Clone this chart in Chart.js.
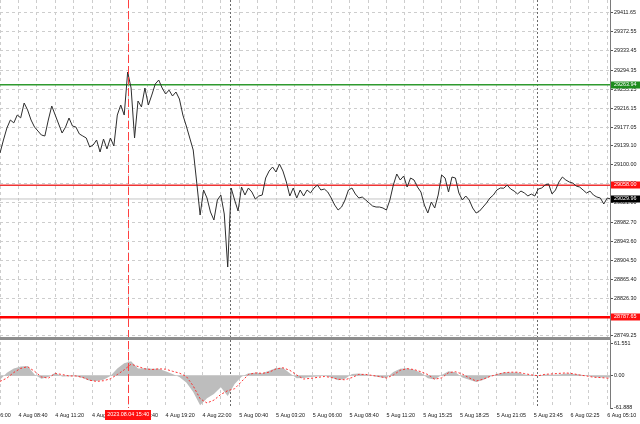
<!DOCTYPE html>
<html>
<head>
<meta charset="utf-8">
<style>
html, body { margin: 0; padding: 0; background: #fff; }
#wrap { width: 640px; height: 424px; }
</style>
<script src="https://cdn.jsdelivr.net/npm/chart.js@4.4.0/dist/chart.umd.min.js"></script>
</head>
<body>
<div id="wrap"><canvas id="chart" width="640" height="424"></canvas></div>
<script>
// BTCUSD M5, 4-6 Aug 2023, price + MACD

// price sampled every 3 bars, starting at the first visible bar
const priceValues = [
    29124.2, 29150.9, 29175.5, 29191.9, 29186.0, 29202.1, 29196.3, 29226.7, 29212.5, 29191.9,
    29177.5, 29169.3, 29161.1, 29159.1, 29191.9, 29220.6, 29202.1, 29183.7, 29165.2, 29177.5,
    29196.0, 29179.6, 29177.5, 29163.3, 29159.1, 29155.0, 29136.5, 29140.6, 29150.9, 29126.3,
    29152.9, 29132.6, 29155.0, 29138.6, 29202.1, 29222.6, 29202.1, 29290.3, 29257.5, 29155.0,
    29230.8, 29218.7, 29257.5, 29222.6, 29243.1, 29265.7, 29273.9, 29257.5, 29245.2, 29253.2,
    29241.1, 29249.3, 29234.9, 29202.1, 29179.6, 29155.0, 29130.4, 29064.8, 28997.1, 29048.4,
    29032.0, 29003.3, 28986.9, 29027.9, 29038.1, 28999.2, 28890.5, 29052.5, 29027.9, 29005.3,
    29054.5, 29038.1, 29052.5, 29044.3, 29029.9, 29036.1, 29038.1, 29073.0, 29087.3, 29095.5,
    29085.3, 29101.7, 29087.3, 29064.8, 29036.1, 29052.5, 29032.0, 29048.4, 29036.1, 29048.4,
    29042.4, 29052.5, 29058.6, 29048.4, 29050.4, 29044.3, 29032.0, 29017.6, 29007.4, 29013.5,
    29027.9, 29048.4, 29052.5, 29040.2, 29032.0, 29034.0, 29027.9, 29021.7, 29015.6, 29013.5,
    29013.5, 29011.5, 29007.4, 29027.9, 29058.6, 29081.2, 29068.9, 29077.1, 29054.5, 29073.0,
    29068.9, 29054.5, 29044.3, 29017.6, 29001.2, 29023.8, 29011.5, 29038.1, 29079.1, 29073.0,
    29044.3, 29075.0, 29073.0, 29042.2, 29027.9, 29036.1, 29027.9, 29011.5, 29001.2, 29005.3,
    29013.5, 29021.7, 29032.0, 29038.1, 29048.4, 29052.5, 29052.0, 29058.6, 29050.5, 29046.3,
    29040.3, 29046.3, 29042.2, 29036.2, 29040.1, 29036.1, 29050.4, 29052.5, 29058.6, 29060.7,
    29040.3, 29048.4, 29064.8, 29075.0, 29068.9, 29064.8, 29062.7, 29056.6, 29054.5, 29048.4,
    29042.2, 29046.2, 29038.1, 29034.0, 29032.0, 29019.7, 29032.0, 29029.96
];

// MACD main (histogram) and signal, sampled every 6 bars
const macdMain = [
    -7.8, 5.4, 14.0, 17.6, 18.5, 2.2, -6.0, -2.4, 5.4, -1.5,
    -1.1, -1.3, -4.2, -9.6, -10.0, -7.8, -0.5, 14.0, 24.0, 27.6,
    14.0, 14.3, 13.4, 13.4, 8.5, 3.1, -2.4, -13.2, -31.4, -56.8,
    -43.2, -35.0, -22.3, -38.7, -16.0, -2.0, 4.9, 5.8, 4.5, 9.4,
    14.9, 15.2, 4.9, -4.7, -4.2, -2.4, -1.5, -0.2, -3.3, -8.7,
    -6.0, 3.1, 4.4, 2.2, -0.5, -2.9, -4.5, 7.3, 13.4, 14.3,
    11.3, 5.8, -5.1, -7.4, 1.3, 8.5, 6.7, -3.3, -7.8, -12.3,
    -8.2, -1.8, 3.1, 6.2, 6.2, 6.2, 2.5, 1.3, -0.2, 2.2,
    2.0, 2.2, 4.2, 3.4, 2.2, 0.0, -2.4, -3.3, -3.6, -3.8
];
const macdSignal = [
    -10.9, -4.7, 6.2, 14.0, 17.2, 8.5, -2.4, -4.7, 4.4, 2.2,
    -0.5, -0.5, -3.3, -8.7, -10.9, -9.6, -6.0, 2.2, 11.3, 22.1,
    17.6, 13.1, 11.8, 13.1, 12.5, 8.5, 4.9, -1.5, -19.6, -44.1,
    -52.3, -46.8, -35.9, -28.7, -25.0, -11.3, 2.2, 5.3, 4.5, 6.7,
    12.9, 15.2, 10.3, 1.3, -6.4, -5.1, -3.3, -1.5, -3.3, -6.9,
    -7.8, -3.6, 2.5, 2.5, 0.4, -1.5, -4.5, 1.3, 10.3, 13.4,
    11.8, 7.6, 2.2, -6.7, -4.2, 5.8, 7.6, 3.1, -4.2, -10.3,
    -6.7, -1.5, 2.2, 5.6, 6.7, 6.7, 4.0, 1.6, -0.2, 2.7,
    3.4, 4.4, 5.3, 4.0, 1.3, -0.5, -2.9, -3.6, -4.7, -5.1
];

// time axis labels, one every 32 bars (first one is cut at the left edge)
const timeLabels = [
    '4 Aug 06:00', '4 Aug 08:40', '4 Aug 11:20', '4 Aug 14:00', '4 Aug 16:40', '4 Aug 19:20',
    '4 Aug 22:00', '5 Aug 00:40', '5 Aug 03:20', '5 Aug 06:00', '5 Aug 08:40', '5 Aug 11:20',
    '5 Aug 15:25', '5 Aug 18:25', '5 Aug 21:05', '5 Aug 23:45', '6 Aug 02:25', '6 Aug 05:10'
];
const priceTicks = [
    29411.65, 29372.55, 29333.45, 29294.35, 29255.25, 29216.15, 29177.05, 29139.10, 29100.00,
    29060.90, 29021.80, 28982.70, 28943.60, 28904.50, 28865.40, 28826.30, 28787.20, 28749.25
];
const macdTicks = [61.551, 0, -61.888];
const macdTickLabels = ['61.551', '0.00', '-61.888'];

// horizontal levels
const resistanceLevel = 29263.94;
const pivotLevel = 29058.00;
const supportLevel = 28787.65;
const lastPrice = 29029.96;

// vertical markers (bar numbers)
const crosshairBar = 111.5;
const crosshairLabel = '2023.08.04 15:40';
const daySeparatorBars = [200, 467];

// ─── axis setup ───
const PRICE_STEP = 3;
const MACD_STEP = 6;
const BARS_VISIBLE = 530.4;
const FIRST_LABEL_BAR = -16;
const LABEL_EVERY = 32;
const GRID_EVERY = 16;
const PRICE_MIN = 28745.0, PRICE_MAX = 29437.9;
const MACD_MIN = -61.888, MACD_MAX = 72.2;

const gridBars = [];
for (let b = FIRST_LABEL_BAR; b <= BARS_VISIBLE; b += GRID_EVERY) gridBars.push(b);

const FONT = { family: 'Liberation Sans', size: 5.4 };
const GRID = '#cdcdcd';

Chart.defaults.font.family = FONT.family;
Chart.defaults.color = '#151515';

const levelLine = (v, color, width) => ({
    data: [{ x: 0, y: v }, { x: BARS_VISIBLE, y: v }],
    yAxisID: 'y',
    borderColor: color,
    borderWidth: width,
    pointRadius: 0,
});

function tag(ctx, area, py, bg, text) {
    ctx.fillStyle = bg;
    ctx.fillRect(area.right + 1, Math.round(py) - 3.5, 30, 7);
    ctx.fillStyle = '#fff';
    ctx.font = `${FONT.size}px ${FONT.family}`;
    ctx.textAlign = 'left';
    ctx.textBaseline = 'middle';
    ctx.fillText(text, area.right + 4, Math.round(py));
}

// vertical panel sizes are fixed, no label overhang
const fixY = s => { s.width = 30; s.paddingTop = 0; s.paddingBottom = 0; };

const overlay = {
    id: 'overlay',
    beforeDatasetsDraw(chart) {
        const { ctx, chartArea: a, scales: { x } } = chart;
        ctx.save();
        ctx.lineWidth = 1;
        ctx.strokeStyle = '#6a6a6a';
        ctx.setLineDash([2, 2]);
        daySeparatorBars.forEach(b => {
            const px = Math.round(x.getPixelForValue(b)) + 0.5;
            ctx.beginPath();
            ctx.moveTo(px, a.top);
            ctx.lineTo(px, a.bottom);
            ctx.stroke();
        });
        ctx.restore();
    },
    afterDatasetsDraw(chart) {
        const { ctx, chartArea: a, scales: { x, y } } = chart;
        ctx.save();
        // crosshair
        const cx = Math.round(x.getPixelForValue(crosshairBar)) + 0.5;
        ctx.strokeStyle = '#ff4040';
        ctx.lineWidth = 1;
        ctx.setLineDash([8, 3]);
        ctx.beginPath();
        ctx.moveTo(cx, a.top);
        ctx.lineTo(cx, a.bottom);
        ctx.stroke();
        // pane separator
        ctx.fillStyle = '#8e8e8e';
        ctx.fillRect(a.left, y.bottom - 1, a.right - a.left + 1, 3);
        ctx.restore();
    },
    afterDraw(chart) {
        const { ctx, chartArea: a, scales: { x, y } } = chart;
        ctx.save();
        tag(ctx, a, y.getPixelForValue(resistanceLevel), '#1e8c1e', resistanceLevel.toFixed(2));
        tag(ctx, a, y.getPixelForValue(pivotLevel), '#ff1010', pivotLevel.toFixed(2));
        tag(ctx, a, y.getPixelForValue(lastPrice), '#000', lastPrice.toFixed(2));
        tag(ctx, a, y.getPixelForValue(supportLevel), '#ff1010', supportLevel.toFixed(2));
        // time tag under the crosshair
        const cx = x.getPixelForValue(crosshairBar);
        ctx.fillStyle = '#ff1010';
        ctx.fillRect(Math.round(cx) - 23, a.bottom + 2, 46, 10);
        ctx.fillStyle = '#fff';
        ctx.font = `${FONT.size}px ${FONT.family}`;
        ctx.textAlign = 'center';
        ctx.textBaseline = 'middle';
        ctx.fillText(crosshairLabel, cx, a.bottom + 7);
        ctx.restore();
    },
};

new Chart(document.getElementById('chart'), {
    type: 'line',
    data: {
        datasets: [
            {
                data: priceValues.map((v, i) => ({ x: i * PRICE_STEP, y: v })),
                yAxisID: 'y',
                borderColor: '#2e2e2e',
                borderWidth: 1,
                pointRadius: 0,
            },
            levelLine(resistanceLevel, '#2f9a2f', 1.5),
            levelLine(pivotLevel, '#ee3434', 1.5),
            levelLine(supportLevel, '#ff0000', 2.5),
            levelLine(lastPrice, '#c4c4c4', 1),
            {
                data: macdSignal.map((v, i) => ({ x: i * MACD_STEP, y: v })),
                yAxisID: 'y2',
                borderColor: '#ff3030',
                borderWidth: 1,
                borderDash: [2, 2],
                pointRadius: 0,
            },
            {
                data: macdMain.map((v, i) => ({ x: i * MACD_STEP, y: v })),
                yAxisID: 'y2',
                borderWidth: 0,
                backgroundColor: '#bdbdbd',
                fill: 'origin',
                pointRadius: 0,
            },
        ],
    },
    options: {
        responsive: false,
        animation: false,
        layout: { padding: 0 },
        plugins: { legend: { display: false }, tooltip: { enabled: false } },
        scales: {
            x: {
                type: 'linear',
                min: 0,
                max: BARS_VISIBLE,
                afterBuildTicks: s => { s.ticks = gridBars.map(v => ({ value: v })); },
                afterFit: s => { s.height = 16; s.paddingLeft = 0; s.paddingRight = 0; },
                grid: { color: GRID, drawTicks: false },
                border: { display: false, dash: [3, 3] },
                ticks: {
                    autoSkip: false,
                    maxRotation: 0,
                    minRotation: 0,
                    align: 'start',
                    padding: 4,
                    font: FONT,
                    callback: v => {
                        const k = (v - FIRST_LABEL_BAR) / LABEL_EVERY;
                        return Number.isInteger(k) ? timeLabels[k] : '';
                    },
                },
            },
            y: {
                position: 'right',
                stack: 'panes',
                stackWeight: 338,
                weight: 1,
                min: PRICE_MIN,
                max: PRICE_MAX,
                afterBuildTicks: s => { s.ticks = priceTicks.map(v => ({ value: v })); },
                afterFit: fixY,
                grid: { color: GRID, tickLength: 3, tickColor: '#555' },
                border: { color: '#7a7a7a', dash: [3, 3] },
                ticks: { font: FONT, padding: 1, callback: v => v.toFixed(2) },
            },
            y2: {
                position: 'right',
                stack: 'panes',
                stackWeight: 70,
                weight: 2,
                min: MACD_MIN,
                max: MACD_MAX,
                afterBuildTicks: s => { s.ticks = macdTicks.map(v => ({ value: v })); },
                afterFit: fixY,
                grid: {
                    color: c => (c.tick && c.tick.value === 0 ? '#d2d2d2' : 'rgba(0,0,0,0)'),
                    tickLength: 3,
                    tickColor: '#555',
                },
                border: { color: '#7a7a7a' },
                ticks: {
                    font: FONT,
                    padding: 1,
                    callback: v => macdTickLabels[macdTicks.indexOf(v)],
                },
            },
        },
    },
    plugins: [overlay],
});
</script>
</body>
</html>
